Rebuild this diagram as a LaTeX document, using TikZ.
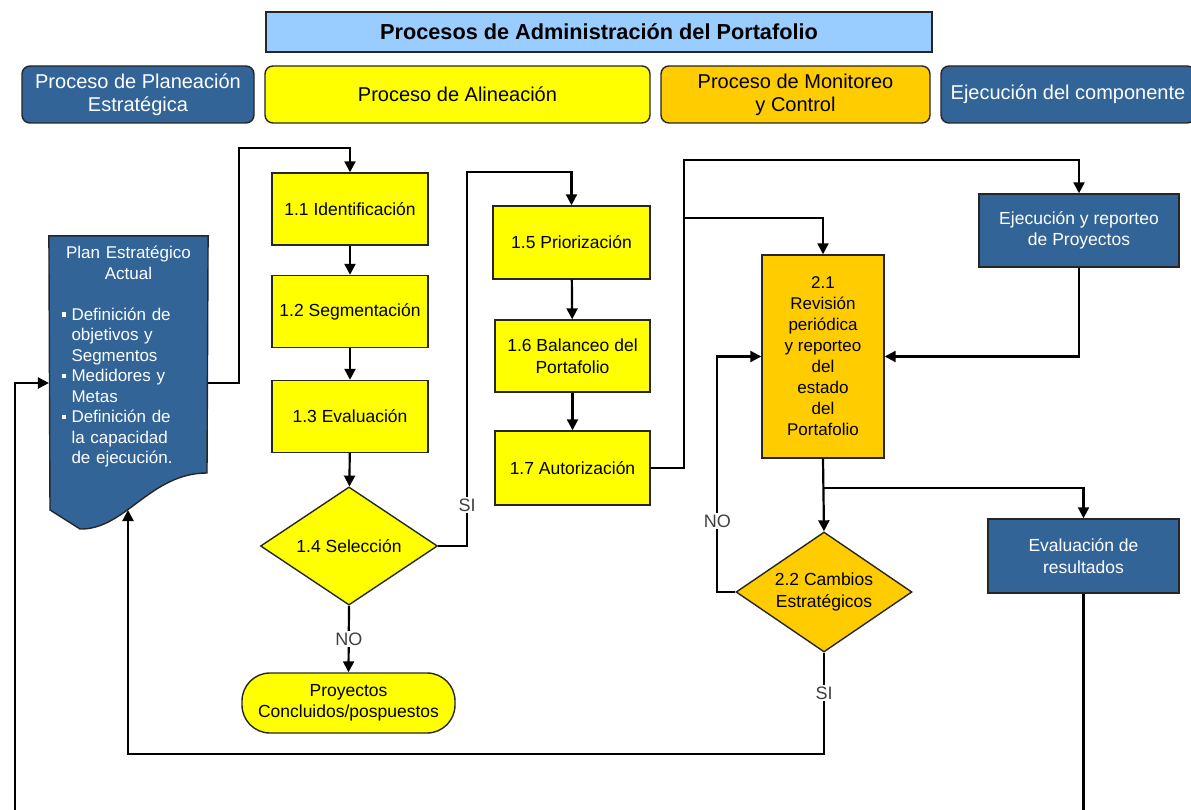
\documentclass[tikz,border=0pt]{standalone}
\usepackage{fontspec}
\setmainfont{Liberation Sans}
\usetikzlibrary{shapes.geometric,arrows.meta}
\definecolor{azulP}{RGB}{50,100,152}
\definecolor{amarilloP}{RGB}{255,255,0}
\definecolor{naranjaP}{RGB}{255,204,0}
\definecolor{celesteP}{RGB}{153,204,255}
\newcommand{\bul}{\makebox[10pt][l]{\rule[3.5pt]{4.5pt}{4.5pt}}}
\newcommand{\sangria}{\hspace*{10pt}}

\begin{document}
\begin{tikzpicture}[x=1pt,y=-1pt,line width=2.2pt]
\tikzstyle{caja}=[draw=black!85, line width=1.4pt, inner sep=1pt, align=center, font=\fontsize{17.5}{21.5}\selectfont]
\tikzstyle{amarilla}=[caja, fill=amarilloP, minimum width=156, minimum height=72]
\tikzstyle{naranja}=[caja, fill=naranjaP]
\tikzstyle{azul}=[caja, fill=azulP, text=white]
\tikzstyle{fase}=[rounded corners=8pt, minimum height=57, font=\fontsize{20}{23}\selectfont]
\tikzstyle{decision}=[caja, diamond, inner sep=0pt]
\tikzstyle{flecha}=[-{Triangle[length=11pt,width=11pt]}]
\tikzstyle{etiq}=[fill=white, inner sep=1.5pt, text=black!75, font=\fontsize{18}{20}\selectfont]

\useasboundingbox (0,0) rectangle (1191,810);

% encabezados
\node[caja, fill=celesteP, minimum width=666, minimum height=40, font=\fontsize{21.7}{24}\selectfont\bfseries] (T) at (599,32) {Procesos de Administración del Portafolio};
\node[azul, fase, minimum width=232] (A) at (138,94.5) {Proceso de Planeación\\Estratégica};
\node[caja, fase, fill=amarilloP, minimum width=385] (B) at (457.5,94.5) {Proceso de Alineación};
\node[naranja, fase, minimum width=269] (C) at (795.5,94.5) {Proceso de Monitoreo\\y Control};
\node[azul, fase, minimum width=254] (D) at (1068,94.5) {Ejecución del componente};

% plan estrategico (documento)
\node[minimum width=157, minimum height=292] (plan) at (128.5,383) {};
\filldraw[fill=azulP, draw=black!85, line width=1.4pt] (plan.north west) -- (plan.north east) -- (207,473)
  .. controls (150,473) and (125,530) .. (80,529) -- (50,510) -- cycle;
\coordinate (W) at (128,510);
\node[text=white, text width=134, inner sep=0pt, align=left, font=\fontsize{17}{20.5}\selectfont] (planT) at (128.5,357)
  {\centering Plan Estratégico\\Actual\par\vspace{20.5pt}\raggedright
   \bul Definición de\\ \sangria objetivos y\\ \sangria Segmentos\\
   \bul Medidores y\\ \sangria Metas\\
   \bul Definición de\\ \sangria la capacidad\\ \sangria de ejecución.};

% alineacion
\node[amarilla] (S1) at (350,209) {1.1 Identificación};
\node[amarilla] (S2) at (350,311.5) {1.2 Segmentación};
\node[amarilla] (S3) at (350,416.5) {1.3 Evaluación};
\node[decision, fill=amarilloP, minimum width=177, minimum height=118] (S4) at (349,546) {1.4 Selección};
\node[caja, fill=amarilloP, rounded corners=28pt, minimum width=213, minimum height=60] (P) at (348.5,703) {Proyectos\\Concluidos/pospuestos};
\node[amarilla, minimum width=157, minimum height=73] (S5) at (571.5,242.5) {1.5 Priorización};
\node[amarilla, minimum width=155] (S6) at (572.5,356) {1.6 Balanceo del\\Portafolio};
\node[amarilla, minimum width=155, minimum height=74] (S7) at (572.5,468) {1.7 Autorización};

% monitoreo y ejecucion
\node[naranja, minimum width=122, minimum height=203, font=\fontsize{17}{21}\selectfont] (R) at (823,356.5) {2.1\\Revisión\\periódica\\y reporteo\\del\\estado\\del\\Portafolio};
\node[decision, fill=naranjaP, minimum width=176, minimum height=120,
  label={[align=center, font=\fontsize{17.5}{21.5}\selectfont]center:2.2 Cambios\\Estratégicos}] (CE) at (824,592) {};
\node[azul, minimum width=200, minimum height=73] (E) at (1079,230.5) {Ejecución y reporteo\\de Proyectos};
\node[azul, minimum width=191, minimum height=74] (V) at (1083.5,556) {Evaluación de\\resultados};

\coordinate (J) at (683,218);
\coordinate (K) at (823,488);
\coordinate (L) at (15,812);
\coordinate (M) at (1083.5,812);

% conectores
\draw[flecha] (L) |- (plan.west);
\draw[flecha] (plan.east) -- ++(31,0) -- ++(0,-235) -| (S1.north);
\draw[flecha] (S1) -- (S2);
\draw[flecha] (S2) -- (S3);
\draw[flecha] (S3) -- (S4);
\draw[flecha] (S4.south) -- node[etiq]{NO} (P.north);
\draw[flecha] (S4.east) -- ++(29,0) -- node[etiq,pos=0.11]{SI} ++(0,-374) -| (S5.north);
\draw[flecha] (S5) -- (S6);
\draw[flecha] (S6) -- (S7);
\draw[flecha] (S7.east) -- ++(33,0) -- ++(0,-308) -| (E.north);
\draw[flecha] (J) -| (R.north);
\draw[flecha] (E.south) |- (R.east);
\draw[flecha] (R.south) -- (CE.north);
\draw[flecha] (K) -| (V.north);
\draw[flecha] (CE.west) -- ++(-18,0) |- node[etiq,pos=0.15]{NO} (R.west);
\draw[flecha] (CE.south) -- node[etiq,pos=0.4]{SI} ++(0,101) -| (W);
\draw (V.south) -- (M);
\end{tikzpicture}
\end{document}
